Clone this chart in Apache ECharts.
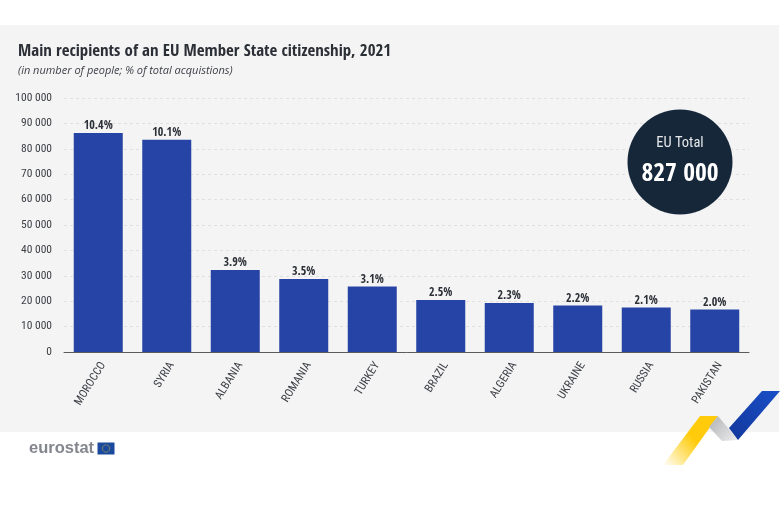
<!DOCTYPE html>
<html>
<head>
<meta charset="utf-8">
<style>
html,body{margin:0;padding:0;background:#fff;}
#chart{width:784px;height:524px;}
</style>
<script src="https://cdn.jsdelivr.net/npm/echarts@6/dist/echarts.min.js"></script>
</head>
<body>
<div id="chart"></div>
<script>
var categories = ["MOROCCO","SYRIA","ALBANIA","ROMANIA","TURKEY","BRAZIL","ALGERIA","UKRAINE","RUSSIA","PAKISTAN"];
var people = [86200,83600,32300,28700,25800,20500,19300,18300,17500,16700];
var shares = ["10.4%","10.1%","3.9%","3.5%","3.1%","2.5%","2.3%","2.2%","2.1%","2.0%"];
var titleText = "Main recipients of an EU Member State citizenship, 2021";
var subtitleText = "(in number of people; % of total acquistions)";
var totalLabel = "EU Total";
var totalValue = "827 000";

var narrow = '"Open Sans Condensed","Roboto Condensed",sans-serif';
var narrowLight = '"Roboto Condensed","Open Sans Condensed",sans-serif';
var chart = echarts.init(document.getElementById("chart"), null, {renderer:"canvas"});

function ribbon(points, colorStops, x0, y0, x1, y1)
{
	return {
		type:"polygon", z:5,
		shape:{points:points},
		style:{fill:new echarts.graphic.LinearGradient(x0,y0,x1,y1,colorStops)}
	};
}

chart.setOption({
	animation:false,
	backgroundColor:"#fff",
	title:[
		{text:titleText,left:13,top:38,textStyle:{fontFamily:narrow,fontSize:16.9,fontWeight:"bold",color:"#2b2f36"}},
		{text:subtitleText,left:13,top:60,textStyle:{fontFamily:"Open Sans",fontSize:11,fontStyle:"italic",fontWeight:"normal",color:"#3c3f44"}}
	],
	grid:{left:64,right:35,top:98,bottom:172,containLabel:false},
	xAxis:{
		type:"category",
		data:categories,
		boundaryGap:true,
		axisLine:{lineStyle:{color:"#5a5a5a",width:1}},
		axisTick:{length:6,lineStyle:{color:"#5a5a5a"}},
		axisLabel:{interval:0,rotate:58,margin:8,verticalAlign:"top",fontFamily:narrowLight,fontSize:11.5,fontWeight:"normal",color:"#3c3f44"}
	},
	yAxis:{
		type:"value",
		min:0,max:100000,interval:10000,
		axisLine:{show:false},
		axisTick:{show:false},
		splitLine:{lineStyle:{type:[3,3],color:"#e0e0e0",width:1}},
		axisLabel:{margin:12,fontFamily:narrowLight,fontSize:11.5,fontWeight:"normal",color:"#3c3f44",
			formatter:function(v){return String(v).replace(/\B(?=(\d{3})+$)/g," ");}}
	},
	series:[{
		type:"bar",
		data:people,
		barWidth:49,
		itemStyle:{color:"#2644a5"},
		z:3,
		label:{
			show:true,position:"top",distance:1,
			fontFamily:narrow,fontSize:12,fontWeight:"bold",color:"#2b2f36",
			formatter:function(p){return shares[p.dataIndex];}
		}
	}],
	graphic:[
		{type:"rect",z:-10,silent:true,shape:{x:0,y:25,width:779,height:407},style:{fill:"#f4f4f5"}},
		{type:"circle",z:6,shape:{cx:680,cy:162,r:52.5},style:{fill:"#16273a"}},
		{type:"text",z:7,x:680,y:143,style:{text:totalLabel,fill:"#e6e8ea",font:'normal 14.5px '+narrowLight,align:"center",verticalAlign:"middle"}},
		{type:"text",z:7,x:680,y:174,style:{text:totalValue,fill:"#ffffff",font:'bold 25.5px '+narrow,align:"center",verticalAlign:"middle"}},
		{type:"text",z:7,x:29,y:448,style:{text:"eurostat",fill:"#84868e",font:'bold 16.5px "Liberation Sans",sans-serif',align:"left",verticalAlign:"middle"}},
		{type:"rect",z:7,shape:{x:97.5,y:442.5,width:17,height:12},style:{fill:"#1b4a9c"}},
		{type:"circle",z:8,shape:{cx:106,cy:448.5,r:3.6},style:{fill:"none",stroke:"#f2c832",lineWidth:0.8,lineDash:[1,1]}},
		ribbon([[663,465],[700,416],[718,416],[683,465]],[{offset:0,color:"rgba(255,204,0,0)"},{offset:0.55,color:"#ffcb0a"},{offset:1,color:"#ffcb0a"}],0,1,1,0),
		ribbon([[709,427],[718,416],[738,440],[722,441]],[{offset:0,color:"#b0b1b4"},{offset:1,color:"#eeeeef"}],0,0,1,1),
		ribbon([[729,428],[762,391],[780,391],[738,440]],[{offset:0,color:"#12379a"},{offset:1,color:"#1a4fc8"}],0,1,1,0)
	]
});
</script>
</body>
</html>
